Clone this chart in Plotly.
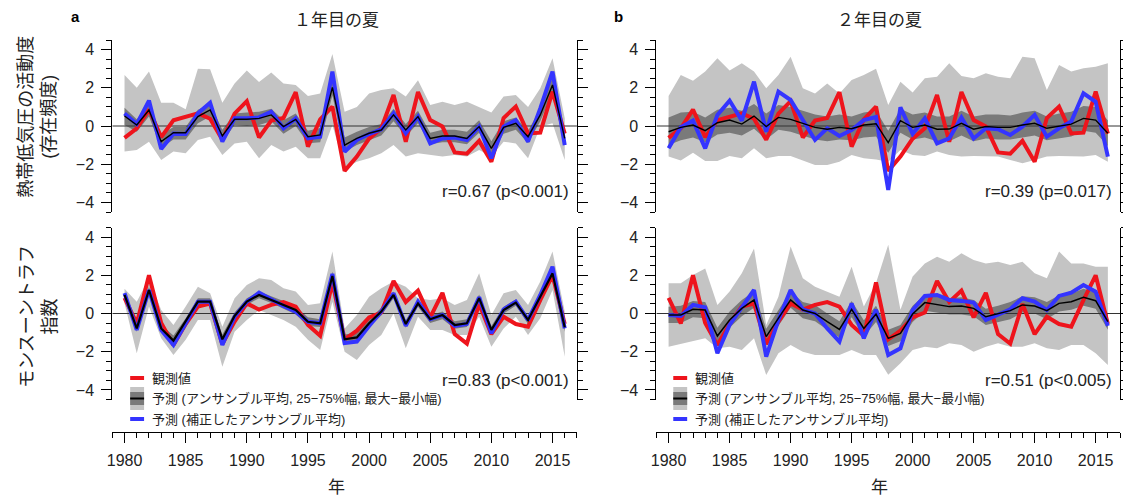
import plotly.graph_objects as go

PAGE_W, PAGE_H = 1131, 499
OFF = 8  # default body margin of the page
W, H = PAGE_W - OFF, PAGE_H - OFF
years = list(range(1980, 2017))
X_RANGE = [1979, 2017]
Y_RANGE = [-4.5, 4.5]

# ---------------- Tropical cyclone activity (top row) ----------------
tc_obs = [-0.62, -0.12, 0.86, -0.58, 0.3, 0.48, 0.66, 0.38, -0.72, 0.65,
          1.3, -0.6, 0.29, 0.42, 1.77, -1.08, 0.35, 1.02, -2.35, -1.6,
          -0.66, -0.12, 1.62, -0.82, 1.78, 0.31, -0.03, -1.38, -1.45, -0.78,
          -1.87, 0.42, 1.02, -0.39, -0.35, 1.8, -0.4]

# year 1 (panel a)
tc1_corr = [0.66, 0.1, 1.33, -1.2, -0.4, -0.42, 0.66, 1.22, -0.82, 0.4,
            0.4, 0.45, 0.75, -0.12, 0.4, -0.65, -0.56, 2.85, -1.35, -0.73,
            -0.42, -0.17, 0.66, -0.38, 0.49, -0.91, -0.65, -0.6, -0.73, -0.03,
            -1.69, -0.03, 0.31, -0.82, 0.92, 2.85, -1.0]
tc1_mean = [0.52, 0.05, 0.84, -0.82, -0.35, -0.35, 0.49, 0.84, -0.52, 0.35,
            0.35, 0.4, 0.58, -0.03, 0.35, -0.56, -0.47, 2.02, -1.0, -0.65,
            -0.38, -0.21, 0.58, -0.21, 0.49, -0.65, -0.52, -0.52, -0.65, -0.03,
            -1.17, -0.07, 0.14, -0.56, 0.58, 2.15, -0.65]
tc1_q75 = [0.95, 0.35, 1.2, -0.45, -0.05, -0.05, 0.85, 1.15, -0.2, 0.65,
           0.7, 0.75, 0.9, 0.3, 0.65, -0.25, -0.1, 2.45, -0.6, -0.3,
           -0.05, 0.1, 0.9, 0.1, 0.8, -0.35, -0.2, -0.2, -0.3, 0.3,
           -0.8, 0.25, 0.45, -0.25, 0.9, 2.55, -0.3]
tc1_q25 = [0.05, -0.3, 0.5, -1.15, -0.7, -0.7, 0.15, 0.5, -0.85, 0.05,
           0.0, 0.05, 0.25, -0.4, 0.0, -0.9, -0.85, 1.6, -1.35, -1.0,
           -0.75, -0.5, 0.25, -0.55, 0.15, -0.95, -0.85, -0.85, -0.95, -0.35,
           -1.5, -0.4, -0.2, -0.9, 0.25, 1.75, -1.0]
tc1_max = [2.67, 2.0, 2.85, 1.22, 1.22, 0.87, 3.0, 2.97, 1.22, 2.23,
           2.9, 2.3, 2.8, 2.23, 2.15, 1.57, 1.7, 3.77, 0.75, 1.0,
           1.7, 1.88, 1.97, 1.54, 2.4, 1.1, 1.27, 1.1, 1.27, 1.0,
           0.7, 1.54, 1.62, 1.0, 1.97, 3.54, 0.4]
tc1_min = [-1.34, -1.26, -0.82, -1.78, -1.34, -1.43, -0.73, -0.56, -1.52, -0.91,
           -0.82, -1.69, -1.0, -1.34, -1.08, -1.69, -1.69, 0.05, -2.2, -1.87,
           -1.69, -1.43, -1.0, -1.6, -1.43, -1.52, -1.6, -1.52, -1.6, -1.26,
           -1.6, -0.82, -0.91, -1.69, -0.03, 0.14, -1.78]

# year 2 (panel b)
tc2_corr = [-1.17, -0.07, 0.28, -1.17, 0.58, 1.33, 0.28, 2.32, -0.3, 1.8,
            1.36, 0.3, -0.73, -0.12, -0.52, -0.21, 0.31, 0.47, -3.35, 0.98,
            -0.42, 0.4, -0.91, -0.65, 0.45, -0.65, -0.12, -0.17, -0.47, -0.03,
            0.58, -0.56, -0.12, 0.23, 1.71, 1.27, -1.6]
tc2_mean = [-0.3, -0.07, 0.05, -0.24, 0.17, 0.31, 0.1, 0.52, -0.03, 0.45,
            0.35, 0.14, -0.07, -0.17, -0.07, -0.14, 0.05, 0.12, -0.87, 0.28,
            -0.07, 0.05, -0.17, -0.16, 0.14, -0.17, -0.03, -0.07, -0.07, 0.05,
            0.14, -0.12, 0.0, 0.1, 0.4, 0.31, -0.38]
tc2_q75 = [0.45, 0.7, 0.75, 0.45, 0.85, 0.95, 0.8, 1.15, 0.65, 1.1,
           1.0, 0.8, 0.6, 0.5, 0.6, 0.5, 0.7, 0.8, -0.25, 0.9,
           0.6, 0.7, 0.5, 0.5, 0.8, 0.5, 0.6, 0.6, 0.55, 0.7,
           0.8, 0.5, 0.65, 0.75, 1.05, 1.0, 0.3]
tc2_q25 = [-1.0, -0.75, -0.6, -0.85, -0.45, -0.35, -0.5, -0.15, -0.7, -0.2,
           -0.3, -0.5, -0.7, -0.8, -0.7, -0.75, -0.6, -0.55, -1.4, -0.35,
           -0.7, -0.6, -0.8, -0.8, -0.5, -0.8, -0.65, -0.7, -0.7, -0.6,
           -0.5, -0.75, -0.65, -0.55, -0.25, -0.35, -1.05]
tc2_max = [1.57, 2.67, 2.37, 2.85, 3.54, 2.9, 3.28, 2.85, 1.97, 2.67,
           3.63, 1.97, 1.7, 2.23, 1.7, 2.41, 2.67, 3.0, 1.1, 2.32,
           1.75, 2.5, 2.58, 3.28, 2.62, 2.5, 2.76, 2.58, 2.5, 3.63,
           3.54, 1.88, 3.19, 2.85, 3.02, 3.1, 3.28]
tc2_min = [-1.6, -1.8, -1.4, -1.83, -1.83, -1.57, -1.69, -1.17, -1.69, -1.57,
           -1.57, -1.8, -2.04, -2.04, -1.87, -1.52, -1.69, -1.75, -1.87, -1.26,
           -1.52, -1.57, -1.34, -1.52, -1.6, -1.57, -1.57, -1.6, -1.78, -1.95,
           -1.78, -1.6, -1.57, -1.57, -1.6, -1.52, -1.87]

# ---------------- Monsoon trough index (bottom row) ----------------
mt_obs = [0.82, -0.52, 2.0, -0.5, -1.65, -0.55, 0.36, 0.52, -1.6, -0.42,
          0.53, 0.2, 0.45, 0.6, 0.36, -0.6, -1.16, 1.62, -1.35, -0.9,
          -0.2, 0.05, 1.7, 0.6, 1.2, -0.2, 1.08, -1.08, -1.58, 0.5,
          -1.08, -0.17, -0.55, -0.69, 0.7, 2.0, -0.55]

mt1_corr = [1.06, -0.86, 1.23, -0.86, -1.65, -0.51, 0.62, 0.62, -1.65, -0.17,
            0.62, 1.09, 0.71, 0.39, 0.1, -0.43, -0.51, 2.07, -1.55, -1.47,
            -0.65, 0.1, 1.06, -0.65, 0.62, -0.3, -0.08, -0.65, -0.55, 0.85,
            -1.04, 0.22, 0.62, -0.34, 0.97, 2.45, -0.78]
mt1_mean = [0.97, -0.78, 1.23, -0.78, -1.42, -0.43, 0.62, 0.62, -1.35, -0.13,
            0.62, 0.97, 0.71, 0.45, 0.18, -0.43, -0.51, 1.96, -1.35, -1.25,
            -0.51, 0.1, 0.97, -0.55, 0.53, -0.3, -0.08, -0.6, -0.51, 0.8,
            -0.86, 0.18, 0.57, -0.34, 0.88, 2.1, -0.72]
mt1_q75 = [1.1, -0.55, 1.4, -0.6, -1.15, -0.25, 0.8, 0.8, -1.1, 0.05,
           0.8, 1.15, 0.9, 0.65, 0.35, -0.2, -0.3, 2.2, -1.1, -1.0,
           -0.3, 0.3, 1.15, -0.35, 0.7, -0.1, 0.1, -0.4, -0.3, 1.0,
           -0.65, 0.35, 0.75, -0.15, 1.05, 2.35, -0.5]
mt1_q25 = [0.8, -0.95, 1.05, -0.95, -1.6, -0.65, 0.45, 0.45, -1.6, -0.35,
           0.45, 0.8, 0.55, 0.25, -0.05, -0.65, -0.7, 1.75, -1.6, -1.45,
           -0.7, -0.1, 0.8, -0.75, 0.35, -0.5, -0.3, -0.8, -0.7, 0.6,
           -1.05, 0.0, 0.4, -0.55, 0.7, 1.85, -0.95]
mt1_max = [1.3, 0.62, 1.84, 0.18, -0.6, 0.36, 1.4, 1.06, -0.69, 0.8,
           1.49, 1.84, 1.75, 1.32, 1.15, 0.45, 0.53, 3.24, -0.78, -0.08,
           0.88, 1.32, 1.67, 1.4, 0.8, 0.71, 0.8, 0.45, 0.71, 2.1,
           -0.08, 1.06, 1.23, 0.45, 1.67, 3.24, 0.1]
mt1_min = [0.53, -2.08, 0.36, -1.3, -2.17, -1.38, -0.34, -0.34, -2.78, -0.95,
           -0.34, 0.18, -0.08, -0.34, -0.69, -1.38, -1.91, 0.62, -2.0, -2.43,
           -1.65, -1.12, 0.0, -1.82, -0.17, -0.86, -0.86, -1.12, -1.12, -0.17,
           -1.74, -0.78, -0.17, -1.12, -0.25, 1.23, -2.26]

mt2_corr = [-0.08, -0.13, 0.45, 0.32, -2.08, -0.6, 0.32, 1.23, -2.26, -0.34,
            1.23, 0.22, 0.0, -0.78, -1.47, 0.53, -1.3, 0.2, -2.17, -1.82,
            0.18, 0.92, 0.97, 0.71, 0.66, 0.57, -0.34, -0.08, 0.22, 0.8,
            0.62, 0.18, 0.92, 1.09, 1.49, 1.14, -0.65]
mt2_mean = [-0.08, -0.08, 0.22, 0.18, -1.18, -0.34, 0.27, 0.71, -1.21, -0.25,
            0.71, 0.18, 0.0, -0.43, -0.83, 0.22, -0.78, -0.03, -1.3, -1.04,
            -0.03, 0.57, 0.45, 0.36, 0.39, 0.27, -0.17, -0.03, 0.15, 0.45,
            0.39, 0.15, 0.53, 0.62, 0.85, 0.67, -0.43]
mt2_q75 = [0.35, 0.4, 0.65, 0.6, -0.75, 0.1, 0.7, 1.15, -0.8, 0.2,
           1.15, 0.6, 0.45, 0.0, -0.4, 0.65, -0.35, 0.4, -0.85, -0.6,
           0.4, 1.0, 0.9, 0.8, 0.85, 0.7, 0.25, 0.4, 0.6, 0.9,
           0.85, 0.6, 0.95, 1.05, 1.3, 1.1, 0.0]
mt2_q25 = [-0.5, -0.5, -0.2, -0.25, -1.55, -0.75, -0.15, 0.3, -1.6, -0.65,
           0.3, -0.25, -0.4, -0.85, -1.25, -0.2, -1.2, -0.45, -1.7, -1.45,
           -0.45, 0.15, 0.05, -0.05, -0.05, -0.15, -0.6, -0.45, -0.3, 0.05,
           0.0, -0.3, 0.1, 0.2, 0.4, 0.25, -0.85]
mt2_max = [1.58, 1.58, 2.02, 2.36, 0.45, 1.15, 2.1, 3.4, -0.6, 0.88,
           3.5, 1.84, 1.4, 1.15, 0.88, 2.45, 0.36, 1.6, 3.6, 0.2,
           1.93, 2.62, 2.97, 2.71, 3.15, 2.8, 2.62, 2.71, 2.54, 2.71,
           2.1, 1.84, 3.24, 2.62, 2.62, 2.45, 2.45]
mt2_min = [-1.74, -1.6, -1.47, -1.3, -1.82, -1.74, -1.91, -1.3, -3.22, -2.08,
           -1.65, -2.0, -2.17, -2.17, -2.17, -1.91, -2.17, -2.17, -3.2, -2.6,
           -1.91, -1.74, -1.82, -1.56, -1.65, -2.0, -1.74, -1.56, -1.74, -1.74,
           -1.56, -1.82, -1.91, -1.65, -1.65, -2.08, -2.7]

r_labels = ["r=0.67 (p<0.001)", "r=0.39 (p=0.017)", "r=0.83 (p<0.001)", "r=0.51 (p<0.005)"]
panel_titles = ["１年目の夏", "２年目の夏"]
row_titles = ["熱帯低気圧の活動度<br>(存在頻度)", "モンスーントラフ<br>指数"]
legend_labels = ["観測値", "予測 (アンサンブル平均, 25−75%幅, 最大−最小幅)", "予測 (補正したアンサンブル平均)"]

RED = "rgb(238,20,28)"
BLUE = "rgb(52,52,255)"
LIGHT = "rgb(196,196,196)"
DARK = "rgb(122,122,122)"
FONT = "Liberation Sans, Arial, Noto Sans CJK JP, sans-serif"
TXT = "#222"


def fx(px):
    return (px - OFF) / W


def fy(py):
    return 1 - (py - OFF) / H


fig = go.Figure()

panels = [
    ("x", "y", tc_obs, tc1_corr, tc1_mean, tc1_q25, tc1_q75, tc1_min, tc1_max, 1.4),
    ("x2", "y2", tc_obs, tc2_corr, tc2_mean, tc2_q25, tc2_q75, tc2_min, tc2_max, 1.4),
    ("x3", "y3", mt_obs, mt1_corr, mt1_mean, mt1_q25, mt1_q75, mt1_min, mt1_max, 2.2),
    ("x4", "y4", mt_obs, mt2_corr, mt2_mean, mt2_q25, mt2_q75, mt2_min, mt2_max, 1.5),
]

for xa, ya, obs, corr, mean, q25, q75, vmin, vmax, mw in panels:
    common = dict(xaxis=xa, yaxis=ya, showlegend=False, hoverinfo="skip")
    fig.add_trace(go.Scatter(x=years, y=vmax, mode="lines", line=dict(width=0, color=LIGHT), **common))
    fig.add_trace(go.Scatter(x=years, y=vmin, mode="lines", line=dict(width=0, color=LIGHT),
                             fill="tonexty", fillcolor=LIGHT, **common))
    fig.add_trace(go.Scatter(x=years, y=q75, mode="lines", line=dict(width=0, color=DARK), **common))
    fig.add_trace(go.Scatter(x=years, y=q25, mode="lines", line=dict(width=0, color=DARK),
                             fill="tonexty", fillcolor=DARK, **common))
    fig.add_trace(go.Scatter(x=X_RANGE, y=[0, 0], mode="lines", line=dict(width=1, color="#333"), **common))
    fig.add_trace(go.Scatter(x=years, y=obs, mode="lines", line=dict(width=4, color=RED), **common))
    fig.add_trace(go.Scatter(x=years, y=corr, mode="lines", line=dict(width=4, color=BLUE), **common))
    fig.add_trace(go.Scatter(x=years, y=mean, mode="lines", line=dict(width=mw, color="black"), **common))

xdom = [[fx(107), fx(575)], [fx(655), fx(1122)]]
ydom = [[fy(212), fy(40)], [fy(399.5), fy(227.5)]]

yaxis_style = dict(range=Y_RANGE, tick0=0, dtick=2, ticks="outside", ticklen=10, tickwidth=1,
                   tickcolor="black", showline=True, linecolor="black", linewidth=1, mirror="ticks",
                   showgrid=False, zeroline=False, ticklabelstandoff=4,
                   tickfont=dict(family=FONT, size=16, color=TXT),
                   minor=dict(dtick=0.5, ticks="outside", ticklen=5, tickcolor="black", showgrid=False))
hidden_x = dict(range=X_RANGE, visible=False, showgrid=False, zeroline=False)
bottom_x = dict(range=X_RANGE, tick0=1980, dtick=5, ticks="outside", ticklen=10, tickwidth=1,
                tickcolor="black", showline=True, linecolor="black", linewidth=1,
                showgrid=False, zeroline=False, anchor="free", position=fy(432), ticklabelstandoff=4,
                tickfont=dict(family=FONT, size=16, color=TXT),
                minor=dict(dtick=1, ticks="outside", ticklen=5, tickcolor="black", showgrid=False))

fig.update_layout(
    width=W, height=H,
    margin=dict(l=0, r=0, t=0, b=0),
    paper_bgcolor="white", plot_bgcolor="white",
    showlegend=False,
    font=dict(family=FONT, color=TXT),
    xaxis=dict(domain=xdom[0], anchor="y", **hidden_x),
    xaxis2=dict(domain=xdom[1], anchor="y2", **hidden_x),
    xaxis3=dict(domain=xdom[0], **bottom_x),
    xaxis4=dict(domain=xdom[1], **bottom_x),
    yaxis=dict(domain=ydom[0], anchor="x", **yaxis_style),
    yaxis2=dict(domain=ydom[0], anchor="x2", **yaxis_style),
    yaxis3=dict(domain=ydom[1], anchor="x3", **yaxis_style),
    yaxis4=dict(domain=ydom[1], anchor="x4", **yaxis_style),
)

ann = []


def text(px, py, s, size, xanchor="center", angle=0, bold=False):
    ann.append(dict(x=fx(px), y=fy(py), xref="paper", yref="paper", text=("<b>%s</b>" % s if bold else s),
                    showarrow=False, xanchor=xanchor, yanchor="middle", textangle=angle,
                    font=dict(family=FONT, size=size, color=TXT if not bold else "black")))


text(70, 16, "a", 15, bold=True)
text(617, 16, "b", 15, bold=True)
text(333, 21, panel_titles[0], 17)
text(880, 21, panel_titles[1], 17)
text(32, 117, row_titles[0], 18, angle=-90)
text(32, 316, row_titles[1], 18, angle=-90)
text(569, 192, r_labels[0], 17, xanchor="right")
text(1116, 192, r_labels[1], 17, xanchor="right")
text(569, 380, r_labels[2], 17, xanchor="right")
text(1116, 380, r_labels[3], 17, xanchor="right")
text(333, 487, "年", 17)
text(880, 487, "年", 17)

shapes = []
for x0 in (125, 672):
    x1 = x0 + 14
    tx = x0 + 20
    shapes.append(dict(type="line", xref="paper", yref="paper", x0=fx(x0), x1=fx(x1), y0=fy(378), y1=fy(378),
                       line=dict(color=RED, width=4)))
    shapes.append(dict(type="rect", xref="paper", yref="paper", x0=fx(x0), x1=fx(x1), y0=fy(410), y1=fy(387),
                       fillcolor=LIGHT, line=dict(width=0)))
    shapes.append(dict(type="rect", xref="paper", yref="paper", x0=fx(x0), x1=fx(x1), y0=fy(405), y1=fy(392),
                       fillcolor=DARK, line=dict(width=0)))
    shapes.append(dict(type="line", xref="paper", yref="paper", x0=fx(x0), x1=fx(x1), y0=fy(398.5), y1=fy(398.5),
                       line=dict(color="black", width=2)))
    shapes.append(dict(type="line", xref="paper", yref="paper", x0=fx(x0), x1=fx(x1), y0=fy(419), y1=fy(419),
                       line=dict(color=BLUE, width=4)))
    text(tx, 378, legend_labels[0], 13, xanchor="left")
    text(tx, 398, legend_labels[1], 13, xanchor="left")
    text(tx, 419, legend_labels[2], 13, xanchor="left")

fig.update_layout(annotations=ann, shapes=shapes)
fig.write_html("out.html")
